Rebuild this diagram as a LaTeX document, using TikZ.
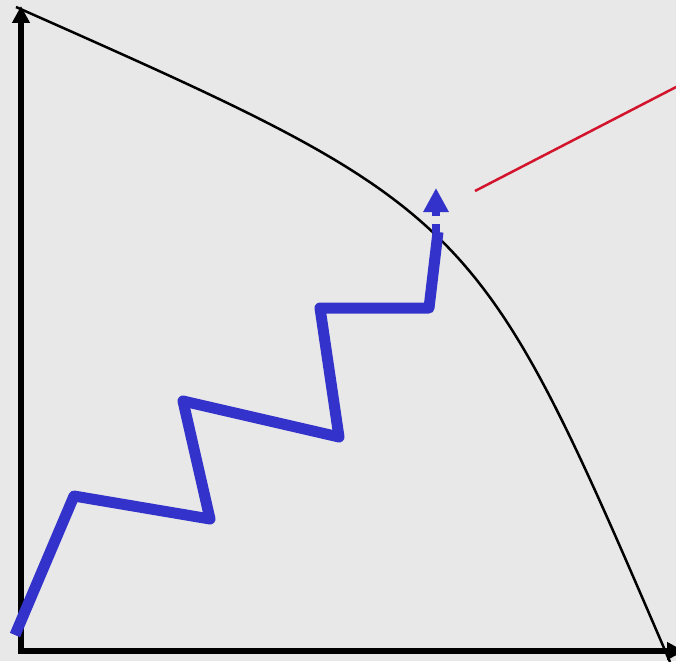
\documentclass[tikz,border=0pt]{standalone}
\usetikzlibrary{arrows.meta}
\definecolor{bgcol}{RGB}{232,232,232}
\definecolor{pathblue}{RGB}{51,51,204}
\definecolor{linered}{RGB}{210,20,45}
\begin{document}
\begin{tikzpicture}[x=1pt,y=-1pt,
  axisline/.style={line width=5.5pt, line join=miter, {Triangle[length=17pt,width=17pt]}-{Triangle[length=17pt,width=17pt]}},
  frontier/.style={line width=2.5pt},
  zigzag/.style={pathblue, line width=11pt, line join=round},
  dasharrow/.style={pathblue, line width=7.5pt, dash pattern=on 8pt off 8pt, -{Triangle[length=24pt,width=24pt]}},
  pointer/.style={linered, line width=2.5pt}]
\fill[bgcol] (0,0) rectangle (676,661);
\useasboundingbox (0,0) rectangle (676,661);
% coordinates
\coordinate (ytop) at (21,6);
\coordinate (origin) at (21,651);
\coordinate (xend) at (684,651);
\coordinate (fa) at (16,7);
\coordinate (fc) at (476,211);
\coordinate (fb) at (670,662);
\coordinate (p0) at (15,635);
\coordinate (p1) at (74,496);
\coordinate (p2) at (210,519);
\coordinate (p3) at (183,401);
\coordinate (p4) at (339,437);
\coordinate (p5) at (320,308);
\coordinate (p6) at (429,308);
\coordinate (p7) at (438,232);
\coordinate (d0) at (436,232);
\coordinate (d1) at (436,188);
\coordinate (r0) at (475,191);
\coordinate (r1) at (680,85);
% axes
\draw[axisline] (ytop) -- (origin) -- (xend);
% frontier curve
\draw[frontier] (fa) .. controls (fc) and (fc) .. (fb);
% zigzag path
\draw[zigzag] (p0) -- (p1) -- (p2) -- (p3) -- (p4) -- (p5) -- (p6) -- (p7);
% dashed arrow
\draw[dasharrow] (d0) -- (d1);
% red pointer line
\draw[pointer] (r0) -- (r1);
\end{tikzpicture}
\end{document}
